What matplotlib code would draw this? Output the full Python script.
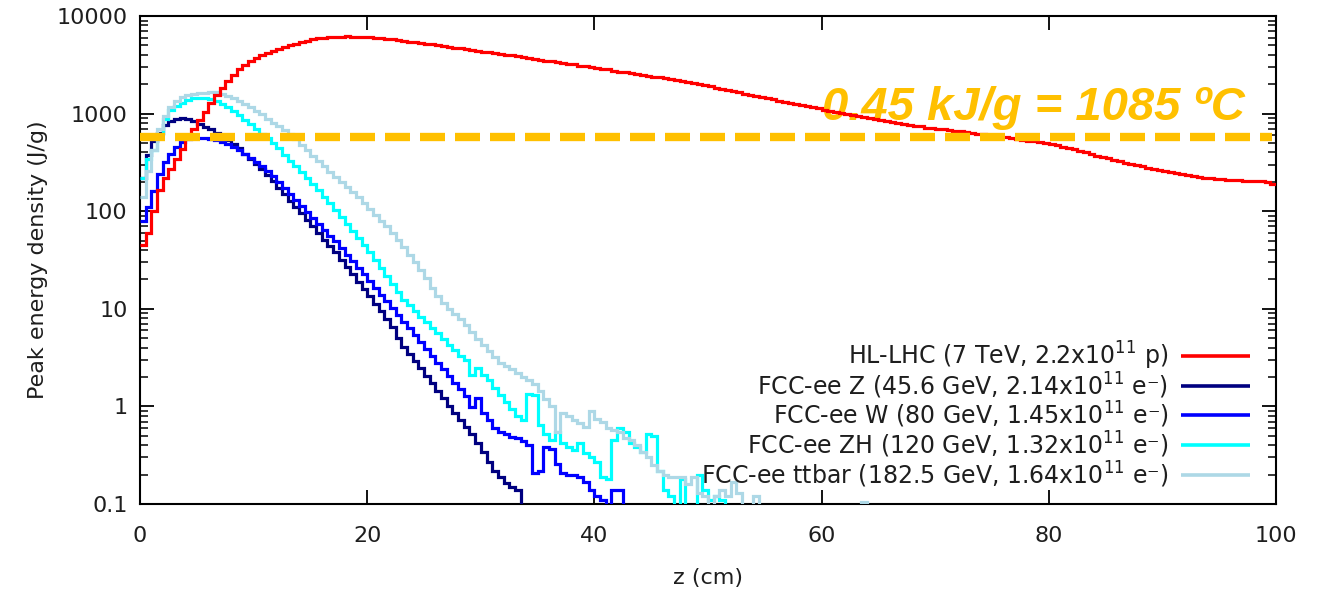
"""Peak energy density along z for HL-LHC and FCC-ee beams (gnuplot-style step histograms)."""

import numpy as np
import matplotlib
matplotlib.use("Agg")
import matplotlib.pyplot as plt
from matplotlib.ticker import FuncFormatter, FixedLocator, LogLocator

# ── Data: peak energy density (J/g) per 0.5 cm bin in z, starting at z = 0 ──
BIN_CM = 0.5
BELOW = 0.01   # bin content below the plotted range

HL_LHC = [
    45, 60, 100, 165, 220, 270, 340, 430, 560, 700,
    860, 1050, 1300, 1550, 1850, 2150, 2500, 2850, 3150, 3450,
    3750, 4000, 4200, 4400, 4600, 4800, 5000, 5200, 5400, 5600,
    5750, 5900, 6000, 6100, 6150, 6150, 6200, 6150, 6150, 6100,
    6050, 6000, 5900, 5850, 5750, 5650, 5550, 5450, 5400, 5300,
    5200, 5150, 5050, 4950, 4850, 4750, 4650, 4600, 4500, 4400,
    4300, 4250, 4150, 4100, 4000, 3950, 3850, 3800, 3700, 3650,
    3550, 3500, 3450, 3350, 3300, 3250, 3200, 3100, 3050, 3000,
    2950, 2900, 2850, 2750, 2700, 2650, 2600, 2550, 2500, 2450,
    2400, 2350, 2300, 2250, 2200, 2150, 2100, 2050, 2000, 1950,
    1900, 1850, 1800, 1750, 1700, 1650, 1600, 1560, 1520, 1480,
    1440, 1400, 1360, 1320, 1290, 1250, 1220, 1190, 1160, 1130,
    1100, 1070, 1050, 1020, 1000, 970, 950, 930, 900, 880,
    860, 840, 820, 800, 780, 770, 750, 740, 720, 710,
    700, 690, 680, 670, 660, 650, 640, 625, 615, 600,
    590, 580, 570, 560, 550, 540, 530, 520, 510, 500,
    490, 475, 460, 445, 430, 415, 400, 385, 372, 360,
    348, 336, 325, 315, 305, 296, 288, 280, 272, 264,
    257, 250, 244, 238, 233, 228, 224, 220, 217, 214,
    212, 210, 208, 207, 206, 205, 204, 202, 198, 192,
]

FCC_Z = [
    220, 380, 520, 640, 760, 840, 880, 900, 890, 850,
    790, 730, 690, 640, 590, 540, 490, 440, 385, 340,
    305, 270, 235, 205, 175, 150, 128, 110, 95, 82,
    70, 60, 51, 44, 38, 32, 27, 22.5, 19, 16,
    13.5, 11.3, 9.4, 7.8, 6.5, 5.0, 4.1, 3.45, 2.9, 2.45,
    2.05, 1.72, 1.45, 1.22, 1.02, 0.86, 0.72, 0.61, 0.52, 0.42,
    0.34, 0.27, 0.22, 0.19, 0.165, 0.15, 0.138, BELOW,
]

FCC_W = [
    80, 110, 160, 240, 320, 390, 460, 510, 550, 565,
    565, 560, 550, 535, 510, 485, 455, 420, 385, 350,
    320, 290, 260, 230, 200, 172, 150, 130, 113, 98,
    85, 74, 64, 56, 49, 42, 36, 31, 26.5, 22.5,
    19.5, 16.5, 14, 12, 10.2, 8.7, 7.4, 6.3, 5.4, 4.6,
    3.9, 3.3, 2.8, 2.4, 2.05, 1.75, 1.5, 1.28, 0.98, 1.22,
    0.85, 0.72, 0.6, 0.55, 0.52, 0.49, 0.47, 0.44, 0.40, 0.21,
    0.22, 0.38, 0.37, 0.26, 0.21, 0.2, 0.2, 0.19, 0.17, 0.14,
    0.12, 0.11, BELOW, 0.14, 0.14, BELOW,
]

FCC_ZH = [
    220, 340, 420, 620, 880, 1080, 1200, 1300, 1380, 1440,
    1460, 1460, 1420, 1340, 1260, 1170, 1070, 970, 870, 780,
    700, 620, 560, 500, 440, 380, 330, 290, 255, 220,
    190, 165, 140, 120, 102, 87, 74, 63, 53, 45,
    38, 31.5, 26, 21.7, 18, 15, 12.4, 10.9, 9.5, 8.3,
    7.3, 6.4, 5.6, 4.9, 4.3, 3.75, 3.3, 3.0, 2.1, 2.5,
    2.1, 1.85, 1.55, 1.3, 1.1, 0.95, 0.8, 0.72, 1.35, 1.3,
    0.65, 0.52, 0.45, 0.55, 0.42, 0.38, 0.36, 0.42, 0.33, 0.3,
    0.27, 0.19, 0.18, 0.45, 0.6, 0.55, 0.42, 0.38, 0.34, 0.52,
    0.5, 0.22, 0.14, 0.12, BELOW, 0.18, BELOW, BELOW, 0.2, 0.14,
    0.11, 0.12, 0.11, BELOW,
]

FCC_TTBAR = [
    140, 260, 420, 700, 950, 1180, 1350, 1480, 1560, 1600,
    1620, 1640, 1660, 1650, 1600, 1520, 1430, 1340, 1250, 1160,
    1070, 980, 890, 810, 740, 680, 620, 550, 480, 420,
    370, 330, 290, 255, 225, 200, 178, 158, 140, 122,
    106, 92, 80, 70, 60, 51, 43, 36, 30, 25,
    20.5, 16.5, 13.5, 11.5, 10, 8.8, 7.8, 6.8, 5.8, 4.9,
    4.3, 3.7, 3.2, 2.8, 2.6, 2.4, 2.2, 2.0, 1.85, 1.7,
    1.45, 1.2, 1.0, 0.55, 0.85, 0.8, 0.72, 0.68, 0.62, 0.9,
    0.75, 0.7, 0.6, 0.58, 0.55, 0.48, 0.45, 0.4, 0.34, 0.3,
    0.25, 0.22, 0.2, 0.19, 0.19, 0.19, 0.16, 0.19, 0.13, 0.12,
    BELOW, 0.12, 0.14, 0.12, 0.17, 0.13, BELOW, BELOW, 0.12, BELOW,
    BELOW, BELOW, BELOW, BELOW, BELOW, BELOW, BELOW, BELOW, BELOW, BELOW,
    BELOW, BELOW, BELOW, BELOW, BELOW, BELOW, BELOW, 0.105, BELOW,
]

SERIES = [
    # (values, legend label, colour)
    (FCC_Z,     "FCC-ee Z (45.6 GeV, 2.14x10$^{11}$ e\u207b)",    "#000080"),
    (FCC_W,     "FCC-ee W (80 GeV, 1.45x10$^{11}$ e\u207b)",      "#0000ff"),
    (FCC_ZH,    "FCC-ee ZH (120 GeV, 1.32x10$^{11}$ e\u207b)",    "#00ffff"),
    (FCC_TTBAR, "FCC-ee ttbar (182.5 GeV, 1.64x10$^{11}$ e\u207b)", "#add8e6"),
    (HL_LHC,    "HL-LHC (7 TeV, 2.2x10$^{11}$ p)",                "#ff0000"),
]
LEGEND_ORDER = [4, 0, 1, 2, 3]

MELT_LEVEL = 575          # J/g, dashed threshold line
MELT_TEXT = "0.45 kJ/g = 1085 ºC"

X_TICKS = [0, 20, 40, 60, 80, 100]
Y_TICKS = [0.1, 1, 10, 100, 1000, 10000]

ORANGE = "#ffc000"
TXT = "#1e1e1e"

# ── Figure ────────────────────────────────────────────────────────────────────
fig = plt.figure(figsize=(13.2, 5.94), dpi=100)
ax = fig.add_axes([0.1061, 0.1515, 0.8606, 0.8215])

for vals, label, col in SERIES:
    edges = np.arange(len(vals) + 1) * BIN_CM
    ax.stairs(vals, edges, baseline=None, color=col, linewidth=2.3, zorder=3)

# threshold line + annotation
ax.plot([0, 99.6], [MELT_LEVEL, MELT_LEVEL], color=ORANGE, linewidth=6,
        dashes=(3.0, 1.2), solid_capstyle="butt", dash_capstyle="butt",
        zorder=5, clip_on=False)
ax.text(60.0, 857, MELT_TEXT, color=ORANGE, fontsize=34, fontweight="bold",
        style="italic", family=["Liberation Sans", "DejaVu Sans"],
        ha="left", va="baseline", zorder=2)

# axes
ax.set_xlim(0, 100)
ax.set_yscale("log")
ax.set_ylim(0.1, 10000)
ax.xaxis.set_major_locator(FixedLocator(X_TICKS))
ax.yaxis.set_major_locator(FixedLocator(Y_TICKS))
ax.yaxis.set_minor_locator(LogLocator(base=10, subs=np.arange(2, 10)))
ax.yaxis.set_major_formatter(FuncFormatter(lambda v, _: f"{v:g}"))
ax.tick_params(which="both", direction="in", top=True, right=True,
               colors="black", labelcolor=TXT, labelsize=16)
ax.tick_params(which="major", length=10, width=1.3)
ax.tick_params(which="minor", length=6, width=1.1)
ax.tick_params(axis="x", pad=16)
ax.tick_params(axis="y", pad=9)
for sp in ax.spines.values():
    sp.set_linewidth(1.5)

ax.set_xlabel("z (cm)", fontsize=16, color=TXT, labelpad=16)
ax.set_ylabel("Peak energy density (J/g)", fontsize=16, color=TXT, labelpad=6)

# gnuplot-style key: right-aligned text, line sample on the right
row_y = [0.303, 0.242, 0.182, 0.121, 0.059]
for k, yk in zip(LEGEND_ORDER, row_y):
    vals, label, col = SERIES[k]
    ax.text(0.905, yk, label, transform=ax.transAxes, ha="right", va="center",
            fontsize=17, color=TXT, zorder=6)
    ax.plot([0.916, 0.977], [yk, yk], transform=ax.transAxes, color=col,
            linewidth=2.6, solid_capstyle="butt", zorder=6)

fig.savefig("out.png", dpi=100)
